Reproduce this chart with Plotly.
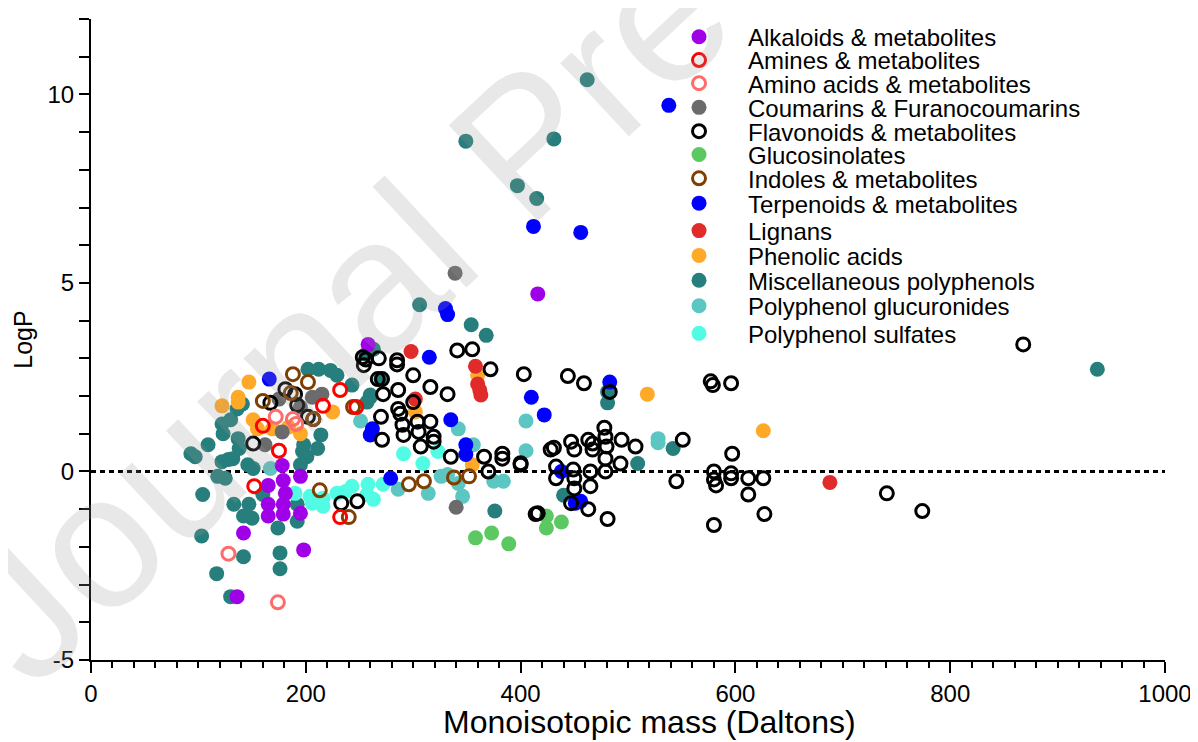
import plotly.graph_objects as go

# ---------------- data (Monoisotopic mass, LogP) ----------------
alk_mass = [178, 195, 165, 179, 181, 165, 179, 195, 165, 179, 142, 136, 198, 258, 416]
alk_logp = [0.16, -0.13, -0.37, -0.24, -0.58, -0.87, -0.87, -1.11, -1.18, -1.13, -1.63, -3.32, -2.08, 3.37, 4.71]

amine_mass = [232, 216, 247, 160, 175, 152, 232]
amine_logp = [2.16, 1.74, 1.71, 1.21, 0.55, -0.39, -1.21]

amino_mass = [172, 188, 191, 128, 174]
amino_logp = [1.45, 1.39, 1.26, -2.18, -3.47]

cou_mass = [175, 206, 215, 195, 178, 162, 339, 340]
cou_logp = [1.92, 1.97, 2.05, 1.71, 1.05, 0.71, 5.26, -0.95]

flav_mass = [167, 181, 190, 192, 207, 202, 151,
             253, 254, 256, 268, 285, 285, 267, 271, 300, 316, 332, 272, 286, 300, 286, 288,
             270, 290, 304, 316, 305, 319, 291, 271, 307, 335, 366, 383, 383, 400, 400, 370,
             341, 355, 372, 403, 248, 233, 416, 319,
             444, 459, 483, 577, 596, 579, 551, 597, 431, 428, 447, 450, 463, 467, 467, 478,
             479, 480, 494, 507, 479, 493, 433, 433, 449, 450, 450, 465, 465, 479, 447, 463,
             481, 414, 545, 580, 580, 582, 596, 596, 612, 612, 626, 627, 580, 868, 741, 774]
flav_logp = [1.82, 2.18, 2.05, 1.76, 1.39, 1.45, 0.74,
             3.03, 2.82, 2.97, 3.0, 2.95, 2.84, 2.45, 2.45, 2.55, 2.24, 2.05, 2.05, 2.16, 1.84, 1.66, 1.53,
             1.45, 1.24, 1.32, 1.32, 1.05, 0.92, 0.97, 0.84, 0.66, 0.39, 0.39, 0.47, 0.34, 0.18, 0.22, 0.0,
             3.21, 3.24, 2.71, 2.58, -0.79, -0.84, -1.11, 0.79,
             2.53, 2.34, 2.11, 2.39, 2.34, 2.29, 0.84, 0.47, 0.63, 0.58, 0.79, 0.58, 0.84, 0.74, 0.58, 1.16,
             0.92, 0.66, 0.84, 0.66, 0.34, 0.21, 0.13, -0.18, 0.05, -0.18, -0.45, 0.0, -0.39, 0.0, -0.84, -1.0,
             -1.26, -1.13, -0.26, 0.0, -0.21, -0.37, -0.18, -0.05, -0.18, -0.61, -0.18, -1.13, -1.42, 3.37, -0.58, -1.05]

gls_mass = [358, 373, 389, 424, 424, 438]
gls_logp = [-1.76, -1.63, -1.92, -1.18, -1.5, -1.34]

ind_mass = [188, 202, 160, 186, 207, 244, 213, 240, 296, 310, 338, 352]
ind_logp = [2.58, 2.37, 1.87, 2.08, 1.39, 1.71, -0.5, -1.21, -0.34, -0.26, -0.16, -0.13]

ter_mass = [538, 412, 456, 330, 332, 315, 410, 422, 483, 166, 262, 260, 335, 349, 349, 279, 438, 456, 451]
ter_logp = [9.71, 6.5, 6.34, 4.32, 4.16, 3.03, 1.97, 1.5, 2.37, 2.45, 1.13, 0.97, 1.37, 0.71, 0.45, -0.18, 0.0, -0.79, -0.84]

lig_mass = [688, 298, 358, 360, 363, 302, 362]
lig_logp = [-0.29, 3.18, 2.79, 2.32, 2.03, 1.92, 2.16]

phe_mass = [518, 626, 147, 122, 137, 137, 151, 155, 195, 225, 360, 302, 355, 184, 169]
phe_logp = [2.05, 1.08, 2.37, 1.74, 1.84, 1.97, 1.37, 1.13, 1.0, 1.58, 2.55, 1.58, 0.18, 1.18, 1.13]

misc_mass = [462, 349, 431, 397, 415, 306, 354, 368, 937, 481, 481, 509, 542, 376, 440,
             93, 109, 122, 123, 137, 138, 128, 146, 118, 125, 104, 133, 147, 150, 141, 136,
             97, 122, 132, 151, 103, 142, 117, 130, 174, 176, 176, 130,
             202, 212, 223, 229, 243, 260, 257, 214, 198, 201, 195, 160, 142, 192, 192, 211,
             197, 263, 256, 270, 260]
misc_logp = [10.39, 8.76, 8.82, 7.58, 7.24, 4.42, 3.89, 3.61, 2.71, 2.11, 1.82, 0.21, 0.61, -1.05, -0.63,
             0.47, 0.71, 1.26, 1.0, 0.87, 0.61, 0.32, 0.18, -0.13, -0.18, -0.61, -0.87, -0.87, -1.24, 1.79, 1.66,
             0.39, 0.26, 0.34, 0.08, -1.71, -2.26, -2.71, -3.32, -1.5, -2.16, -2.58, 1.37,
             2.71, 2.71, 2.68, 2.55, 2.29, 2.03, 1.84, 0.97, 0.71, 0.39, 0.18, -0.61, -1.18, -1.32, -0.87, 0.61,
             0.53, 3.24, 3.11, 2.45, 1.97]

glu_mass = [405, 405, 528, 528, 342, 251, 356, 384, 375, 346, 314, 286, 332, 167, 326, 342]
glu_logp = [1.34, 0.55, 0.87, 0.76, 1.13, 1.34, 0.71, -0.26, -0.26, -0.66, -0.58, -0.47, -0.08, 0.08, -0.13, -0.32]

sul_mass = [190, 204, 216, 216, 206, 229, 243, 257, 258, 263, 272, 291, 309, 323, 237]
sul_logp = [-0.58, -0.66, -0.71, -0.92, -0.84, -0.58, -0.39, -0.61, -0.34, -0.74, -0.34, 0.47, 0.21, 0.53, -0.53]

x_ticks = [0, 200, 400, 600, 800, 1000]
y_ticks = [-5, 0, 5, 10]

# ---------------- styling ----------------
FONT = "Arial, Liberation Sans, sans-serif"

# (name, mass, logp, color, open?) in legend order
series = [
    ("Alkaloids & metabolites", alk_mass, alk_logp, "#A000E8", False),
    ("Amines & metabolites", amine_mass, amine_logp, "#FF0000", True),
    ("Amino acids & metabolites", amino_mass, amino_logp, "#FF6B6B", True),
    ("Coumarins & Furanocoumarins", cou_mass, cou_logp, "#6B6B6B", False),
    ("Flavonoids & metabolites", flav_mass, flav_logp, "#000000", True),
    ("Glucosinolates", gls_mass, gls_logp, "#5CC862", False),
    ("Indoles & metabolites", ind_mass, ind_logp, "#7F3F00", True),
    ("Terpenoids & metabolites", ter_mass, ter_logp, "#0000FF", False),
    ("Lignans", lig_mass, lig_logp, "#E12A2A", False),
    ("Phenolic acids", phe_mass, phe_logp, "#FFA928", False),
    ("Miscellaneous polyphenols", misc_mass, misc_logp, "#267F7C", False),
    ("Polyphenol glucuronides", glu_mass, glu_logp, "#5CC6C2", False),
    ("Polyphenol sulfates", sul_mass, sul_logp, "#52FCE4", False),
]
# drawing order (bottom -> top)
draw_order = [10, 11, 12, 9, 8, 7, 5, 3, 0, 4, 6, 2, 1]
# legend entry centres, in page pixels
legend_py = [33.3, 56.7, 80, 104.3, 128.3, 151.7, 175.7, 200.7, 228.3, 253.3, 278.3, 304, 331.7]

PAGE_OFF = 8                      # default body margin of the html page
W, H = 1190, 734
ML, MR, MT, MB = 83, 33, 7, 82
plot_bottom = PAGE_OFF + H - MB   # page pixel of the x axis
plot_h = H - MT - MB

fig = go.Figure()
for idx in draw_order:
    name, xs, ys, col, is_open = series[idx]
    lg = "legend" if idx == 0 else f"legend{idx + 1}"
    if is_open:
        marker = dict(symbol="circle-open", size=13, color=col, line=dict(color=col, width=3))
    else:
        marker = dict(symbol="circle", size=15, color=col, line=dict(width=0))
    fig.add_trace(go.Scatter(x=xs, y=ys, mode="markers", name=name, marker=marker,
                             legend=lg, showlegend=True, hoverinfo="x+y+name"))

layout_legends = {}
for i, py in enumerate(legend_py):
    key = "legend" if i == 0 else f"legend{i + 1}"
    layout_legends[key] = dict(
        x=0.5205, xanchor="left", y=(plot_bottom - py) / plot_h, yanchor="middle",
        bgcolor="rgba(0,0,0,0)", borderwidth=0, itemwidth=88,
        font=dict(family=FONT, size=24, color="black"),
    )

fig.update_layout(
    width=W, height=H,
    margin=dict(l=ML, r=MR, t=MT, b=MB),
    paper_bgcolor="white", plot_bgcolor="white",
    font=dict(family=FONT, color="black"),
    **layout_legends,
)

fig.update_xaxes(
    range=[0, 1000], tickvals=x_ticks, ticktext=[str(v) for v in x_ticks],
    showgrid=False, zeroline=False, showline=True, linecolor="black", linewidth=2,
    ticks="outside", ticklen=11, tickwidth=2, tickcolor="black",
    minor=dict(dtick=20, ticks="outside", ticklen=6, tickwidth=1.5, tickcolor="black", showgrid=False),
    tickfont=dict(family=FONT, size=24),
)
fig.update_yaxes(
    range=[-5, 12], tickvals=y_ticks, ticktext=[str(v) for v in y_ticks],
    showgrid=False, zeroline=False, showline=True, linecolor="black", linewidth=2,
    ticks="outside", ticklen=10, tickwidth=2, tickcolor="black",
    minor=dict(dtick=1, ticks="outside", ticklen=10, tickwidth=1.5, tickcolor="black", showgrid=False),
    tickfont=dict(family=FONT, size=24),
    title=dict(text="LogP", font=dict(family=FONT, size=25), standoff=8),
)

# x-axis title (placed slightly right of centre, as in the original)
fig.add_annotation(text="Monoisotopic mass (Daltons)", xref="paper", yref="paper",
                   x=(649 - PAGE_OFF - ML) / (W - ML - MR), y=-(722 - plot_bottom) / plot_h,
                   xanchor="center", yanchor="middle", showarrow=False,
                   font=dict(family=FONT, size=32, color="black"))

# dotted reference line at LogP = 0
fig.add_shape(type="line", xref="x", yref="y", x0=0, x1=1000, y0=0, y1=0,
              line=dict(color="black", width=3, dash="5px,4px"), layer="below")

# watermark
fig.add_annotation(text="Journal Pre-proof", xref="paper", yref="paper", x=0.404, y=0.806,
                   xanchor="center", yanchor="middle",
                   showarrow=False, textangle=-43,
                   font=dict(family=FONT, size=190, color="rgba(150,150,150,0.22)"))

fig.write_html("out.html")
